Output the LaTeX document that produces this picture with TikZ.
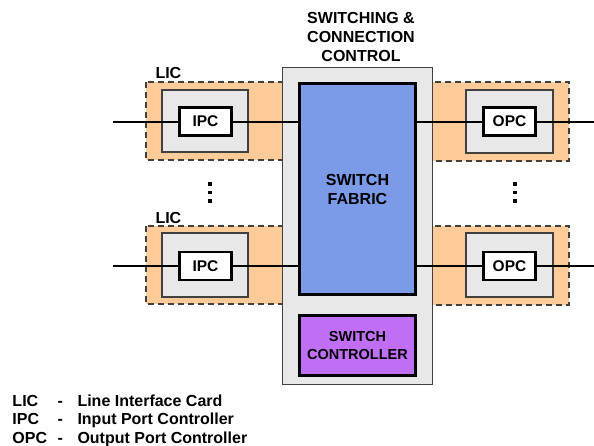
\documentclass[tikz,border=0pt]{standalone}
\usepackage{fontspec}
\setmainfont{Liberation Sans}
\definecolor{licfill}{HTML}{FFCC99}
\definecolor{panel}{HTML}{E8E8E8}
\definecolor{fabricblue}{HTML}{7B9AE8}
\definecolor{ctrlpurple}{HTML}{C06EF5}
\definecolor{rim}{HTML}{404040}

\begin{document}
\begin{tikzpicture}[
  x=1pt, y=-1pt, line width=1pt,
  every node/.style={font=\fontsize{16}{19}\selectfont\bfseries},
  card/.style={fill=licfill, draw=rim, line width=1.2pt, dash pattern=on 6pt off 4pt},
  tray/.style={fill=panel, draw=black!75, line width=1.2pt},
  port/.style={draw=black, line width=2.6pt, fill=white, minimum width=52pt,
    minimum height=28pt, inner sep=0pt, font=\fontsize{15.5}{19}\selectfont\bfseries},
  unit/.style={draw=black, line width=2.6pt, align=center, inner sep=0pt},
  wire/.style={draw=black, line width=2pt},
]
  \useasboundingbox (0,0) rectangle (594,445);

  % Line interface cards, behind the switch box.
  \draw[card] (146,82) rectangle (292,160);
  \draw[card] (146,226) rectangle (292,304);
  \draw[card] (425,82) rectangle (569,161);
  \draw[card] (425,226) rectangle (569,305);
  \node[anchor=base west, inner sep=0pt] at (155,78) {LIC};
  \node[anchor=base west, inner sep=0pt] at (155,223) {LIC};

  % Switching & connection control.
  \node[tray, minimum width=150pt, minimum height=317pt, inner sep=0pt] (switchbox) at (357.5,226) {};
  \node[align=center, inner sep=0pt] (title) at (361,37) {SWITCHING \&\\CONNECTION\\CONTROL};
  \node[unit, fill=fabricblue, minimum width=116pt, minimum height=211pt] (fabric)
    at (357.5,189) {SWITCH\\FABRIC};
  \node[unit, fill=ctrlpurple, minimum width=116pt, minimum height=60pt,
    font=\fontsize{14.5}{18}\selectfont\bfseries] (ctrl)
    at (357.5,345.5) {SWITCH\\CONTROLLER};

  % Port controller trays.
  \draw[tray] (162,90) rectangle (248,152);
  \draw[tray] (162,233) rectangle (248,297);
  \draw[tray] (466,90) rectangle (553,153);
  \draw[tray] (466,233) rectangle (553,297);

  % Ports and their lines.
  \foreach \r/\y in {A/121.5, B/266} {
    \node[port] (ipc\r) at (205.5,\y) {IPC};
    \node[port] (opc\r) at (509.5,\y) {OPC};
    \coordinate (in\r) at (113,\y);
    \coordinate (out\r) at (594,\y);
    \draw[wire] (in\r) -- (ipc\r);
    \draw[wire] (ipc\r) -- (ipc\r -| fabric.west);
    \draw[wire] (fabric.east |- opc\r) -- (opc\r);
    \draw[wire] (opc\r) -- (out\r);
  }

  % Vertical dots between the two card rows.
  \foreach \x in {210,515}
    \foreach \y in {184,192.5,201}
      \fill (\x-1.6,\y-1.6) rectangle (\x+1.6,\y+1.6);

  % Legend.
  \foreach \y/\ab/\txt in {406/LIC/Line Interface Card, 424/IPC/Input Port Controller,
      443/OPC/Output Port Controller} {
    \node[anchor=base west, inner sep=0pt] at (12,\y) {\ab};
    \node[anchor=base west, inner sep=0pt] at (57,\y) {-};
    \node[anchor=base west, inner sep=0pt] at (77,\y) {\txt};
  }
\end{tikzpicture}
\end{document}
